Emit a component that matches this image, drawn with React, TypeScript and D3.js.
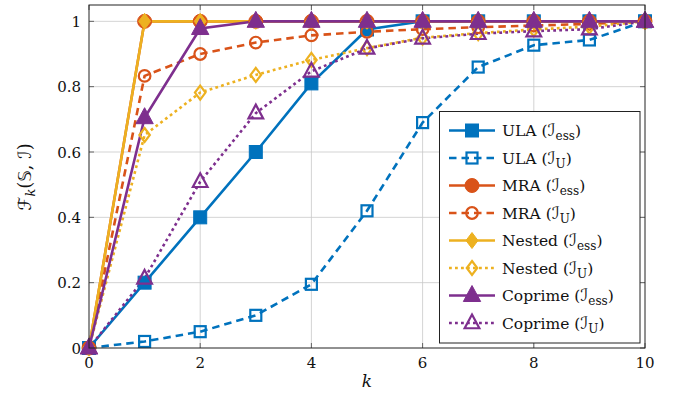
import React from 'react';
import * as d3 from 'd3';

const ks = [0, 1, 2, 3, 4, 5, 6, 7, 8, 9, 10];

const ulaEss = [0, 0.2, 0.4, 0.6, 0.81, 0.975, 1, 1, 1, 1, 1];
const ulaU = [0, 0.02, 0.05, 0.1, 0.195, 0.42, 0.69, 0.86, 0.927, 0.943, 1];
const mraEss = [0, 1, 1, 1, 1, 1, 1, 1, 1, 1, 1];
const mraU = [0, 0.833, 0.9, 0.935, 0.957, 0.968, 0.976, 0.982, 0.987, 0.992, 1];
const nestedEss = [0, 1, 1, 1, 1, 1, 1, 1, 1, 1, 1];
const nestedU = [0, 0.652, 0.782, 0.836, 0.882, 0.918, 0.95, 0.964, 0.975, 0.984, 1];
const coprimeEss = [0, 0.705, 0.978, 1, 1, 1, 1, 1, 1, 1, 1];
const coprimeU = [0, 0.213, 0.509, 0.719, 0.847, 0.917, 0.948, 0.962, 0.97, 0.976, 1];

const xTicks = [0, 2, 4, 6, 8, 10];
const yTicks = [0, 0.2, 0.4, 0.6, 0.8, 1];

const BLUE = '#0072BD';
const ORANGE = '#D95319';
const YELLOW = '#EDB120';
const PURPLE = '#7E2F8E';

const DASHED = '7.5,5';
const DOTTED = '2.8,3.2';

type Marker = 'square' | 'circle' | 'diamond' | 'triangle';

interface Series {
  name: string;
  sub: string;
  values: number[];
  color: string;
  dash: string;
  marker: Marker;
  filled: boolean;
}

const series: Series[] = [
  { name: 'ULA', sub: 'ess', values: ulaEss, color: BLUE, dash: '', marker: 'square', filled: true },
  { name: 'ULA', sub: 'U', values: ulaU, color: BLUE, dash: DASHED, marker: 'square', filled: false },
  { name: 'MRA', sub: 'ess', values: mraEss, color: ORANGE, dash: '', marker: 'circle', filled: true },
  { name: 'MRA', sub: 'U', values: mraU, color: ORANGE, dash: DASHED, marker: 'circle', filled: false },
  { name: 'Nested', sub: 'ess', values: nestedEss, color: YELLOW, dash: '', marker: 'diamond', filled: true },
  { name: 'Nested', sub: 'U', values: nestedU, color: YELLOW, dash: DOTTED, marker: 'diamond', filled: false },
  { name: 'Coprime', sub: 'ess', values: coprimeEss, color: PURPLE, dash: '', marker: 'triangle', filled: true },
  { name: 'Coprime', sub: 'U', values: coprimeU, color: PURPLE, dash: DOTTED, marker: 'triangle', filled: false },
];

const W = 673;
const H = 393;
const left = 89;
const right = 645;
const top = 5;
const bottom = 348;

const FONT = '"DejaVu Serif", "Liberation Serif", serif';
const MATH = '"DejaVu Sans", "DejaVu Serif", serif';

function MarkerShape({ type, x, y, color, filled }: { type: Marker; x: number; y: number; color: string; filled: boolean }) {
  const common = {
    fill: filled ? color : 'none',
    stroke: color,
    strokeWidth: filled ? 1 : 2.2,
  };
  if (type === 'square') {
    const s = filled ? 13 : 11;
    return <rect x={x - s / 2} y={y - s / 2} width={s} height={s} {...common} />;
  }
  if (type === 'circle') {
    return <circle cx={x} cy={y} r={filled ? 7 : 5.8} {...common} />;
  }
  if (type === 'diamond') {
    const r = filled ? 8 : 7;
    const w = r * 0.75;
    return <path d={`M${x},${y - r}L${x + w},${y}L${x},${y + r}L${x - w},${y}Z`} {...common} />;
  }
  const r = filled ? 10 : 8.5;
  const h = r * 0.866;
  return (
    <path
      d={`M${x},${y - r}L${x + h},${y + r * 0.5 + 1}L${x - h},${y + r * 0.5 + 1}Z`}
      {...common}
      strokeLinejoin="miter"
    />
  );
}

export default function App() {
  const x = d3.scaleLinear().domain([0, 10]).range([left, right]);
  const y = d3.scaleLinear().domain([0, 1.05]).range([bottom, top]);

  const line = d3
    .line<number>()
    .x((_, i) => x(ks[i]))
    .y((d) => y(d));

  const legX = 439.5;
  const legY = 111.5;
  const legW = 200.5;
  const legH = 231.5;
  const rowY = (i: number) => 130.5 + i * 27.5;

  return (
    <div style={{ position: 'absolute', left: 0, top: 0 }}>
      <svg width={W} height={H} style={{ display: 'block', background: '#fff' }}>
        {/* grid */}
        <g stroke="#c8c8c8" strokeWidth={0.8}>
          {xTicks.slice(1, -1).map((t) => (
            <line key={'gx' + t} x1={x(t)} x2={x(t)} y1={top} y2={bottom} />
          ))}
          {yTicks.slice(1).map((t) => (
            <line key={'gy' + t} x1={left} x2={right} y1={y(t)} y2={y(t)} />
          ))}
        </g>
        {/* tick marks */}
        <g stroke="#444" strokeWidth={0.8}>
          {xTicks.map((t) => (
            <g key={'tx' + t}>
              <line x1={x(t)} x2={x(t)} y1={bottom} y2={bottom - 5} />
              <line x1={x(t)} x2={x(t)} y1={top} y2={top + 5} />
            </g>
          ))}
          {yTicks.map((t) => (
            <g key={'ty' + t}>
              <line x1={left} x2={left + 5} y1={y(t)} y2={y(t)} />
              <line x1={right} x2={right - 5} y1={y(t)} y2={y(t)} />
            </g>
          ))}
        </g>

        {/* series lines */}
        {series.map((s, i) => (
          <path
            key={'l' + i}
            d={line(s.values) || ''}
            fill="none"
            stroke={s.color}
            strokeWidth={2.6}
            strokeDasharray={s.dash || undefined}
          />
        ))}
        {/* markers */}
        {series.map((s, i) => (
          <g key={'m' + i}>
            {s.values.map((v, j) => (
              <MarkerShape key={j} type={s.marker} x={x(ks[j])} y={y(v)} color={s.color} filled={s.filled} />
            ))}
          </g>
        ))}

        {/* frame */}
        <rect x={left} y={top} width={right - left} height={bottom - top} fill="none" stroke="#222" strokeWidth={1} />

        {/* tick labels */}
        <g fontFamily={FONT} fontSize={15} fill="#111">
          {xTicks.map((t) => (
            <text key={'xl' + t} x={x(t)} y={bottom + 20} textAnchor="middle">
              {t}
            </text>
          ))}
          {yTicks.map((t) => (
            <text key={'yl' + t} x={left - 8} y={y(t) + 5.5} textAnchor="end">
              {String(t)}
            </text>
          ))}
        </g>

        {/* axis labels */}
        <text x={x(5)} y={387} textAnchor="middle" fontFamily={FONT} fontStyle="italic" fontSize={17} fill="#111">
          k
        </text>
        <text
          transform="translate(31,177) rotate(-90)"
          textAnchor="middle"
          fontFamily={FONT}
          fontSize={18}
          fill="#111"
        >
          <tspan fontFamily={MATH} fontStyle="italic">ℱ</tspan>
          <tspan fontStyle="italic" fontSize={13} dy={4}>k</tspan>
          <tspan dy={-4}>(</tspan>
          <tspan fontFamily={MATH}>𝕊</tspan>
          <tspan>, </tspan>
          <tspan fontFamily={MATH} fontStyle="italic">ℐ</tspan>
          <tspan>)</tspan>
        </text>

        {/* legend */}
        <rect x={legX} y={legY} width={legW} height={legH} fill="#fff" stroke="#222" strokeWidth={1} />
        {series.map((s, i) => {
          const yy = rowY(i);
          return (
            <g key={'lg' + i}>
              <line
                x1={449}
                x2={495}
                y1={yy}
                y2={yy}
                stroke={s.color}
                strokeWidth={2.6}
                strokeDasharray={s.dash || undefined}
              />
              <MarkerShape type={s.marker} x={472} y={yy} color={s.color} filled={s.filled} />
              <text x={502} y={yy + 5.5} fontFamily={FONT} fontSize={15.5} fill="#111">
                {s.name + ' ('}
                <tspan fontFamily={MATH} fontStyle="italic" fontSize={17}>ℐ</tspan>
                <tspan fontSize={12} dy={4}>{s.sub}</tspan>
                <tspan dy={-4}>)</tspan>
              </text>
            </g>
          );
        })}
      </svg>
    </div>
  );
}
